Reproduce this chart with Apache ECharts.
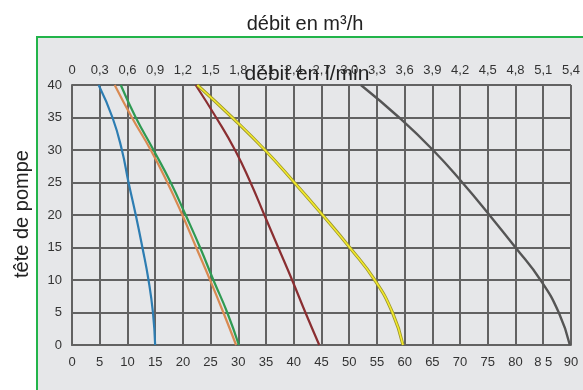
<!DOCTYPE html>
<html>
<head>
<meta charset="utf-8">
<script src="https://cdn.jsdelivr.net/npm/echarts@6/dist/echarts.min.js"></script>
<style>
  html, body { margin: 0; padding: 0; background: #ffffff; }
  #chart { width: 583px; height: 390px; }
</style>
</head>
<body>
<div id="chart"></div>
<script>
// Pump curves: head (m) against flow (l/min), one curve per pump model.
const bottomTicks = ['0','5','10','15','20','25','30','35','40','45','50','55','60','65','70','75','80','8 5','90'];
const topTicks = ['0','0,3','0,6','0,9','1,2','1,5','1,8','2,1','2,4','2,7','3,0','3,3','3,6','3,9','4,2','4,5','4,8','5,1','5,4'];
const headTicks = ['0','5','10','15','20','25','30','35','40'];

// [flow l/min, head m]
const pumpBlue   = [[4.8,40],[7.3,35],[9.0,30],[10.2,25],[11.5,20],[12.7,15],[13.8,10],[14.6,5],[15.0,0]];
const pumpOrange = [[7.7,40],[10.8,35],[14.2,30],[17.2,25],[19.9,20],[22.4,15],[24.9,10],[27.3,5],[29.6,0]];
const pumpGreen  = [[8.8,40],[11.5,35],[14.7,30],[17.8,25],[20.5,20],[23.1,15],[25.5,10],[28.0,5],[30.1,0]];
const pumpBrown  = [[22.3,40],[26.0,35],[29.4,30],[32.2,25],[34.7,20],[37.2,15],[39.7,10],[42.1,5],[44.6,0]];
const pumpYellow = [[22.6,40],[28.9,35],[34.8,30],[40.1,25],[45.2,20],[50.1,15],[54.6,10],[57.8,5],[59.7,0]];
const pumpGray   = [[52.1,40],[59.0,35],[65.1,30],[70.4,25],[75.3,20],[80.0,15],[84.5,10],[87.8,5],[89.8,0]];

const FONT = 'Liberation Sans, Arial, sans-serif';
const GRID_COLOR = '#626262';

function curve(data, color, width, z) {
  return {
    type: 'line', data: data, smooth: 0.5, symbol: 'none', z: z || 3,
    lineStyle: { color: color, width: width }, silent: true, animation: false
  };
}

const chart = echarts.init(document.getElementById('chart'), null, { renderer: 'canvas' });
chart.setOption({
  animation: false,
  backgroundColor: '#ffffff',
  textStyle: { fontFamily: FONT },
  graphic: [
    { type: 'rect', z: -10, shape: { x: 37, y: 37, width: 600, height: 400 },
      style: { fill: '#e6e7e9', stroke: '#22b44a', lineWidth: 2 } },
    { type: 'text', z: 10, x: 22, y: 214, rotation: Math.PI / 2,
      style: { text: 'tête de pompe', fill: '#222', font: '20px ' + FONT, align: 'center', verticalAlign: 'middle' } }
  ],
  title: [
    { text: 'débit en m³/h', left: 300, top: 9, textAlign: 'center',
      textStyle: { fontSize: 20, fontWeight: 'normal', color: '#222', fontFamily: FONT } },
    { text: 'débit en l/min', left: 302, top: 59, textAlign: 'center', z: 20,
      textStyle: { fontSize: 21, fontWeight: 'normal', color: '#222', fontFamily: FONT } }
  ],
  grid: { left: 72, top: 85, width: 500.5, height: 260, containLabel: false },
  xAxis: [
    { type: 'value', position: 'bottom', min: 0, max: 90, interval: 5,
      axisLine: { show: true, lineStyle: { color: GRID_COLOR, width: 2 } },
      axisTick: { show: false },
      splitLine: { show: true, lineStyle: { color: GRID_COLOR, width: 2 } },
      axisLabel: { margin: 11, fontSize: 13, color: '#333',
        formatter: v => bottomTicks[Math.round(v / 5)] } },
    { type: 'value', position: 'top', min: 0, max: 90, interval: 5,
      axisLine: { show: false }, axisTick: { show: false }, splitLine: { show: false },
      axisLabel: { margin: 8, fontSize: 13, color: '#333',
        formatter: v => topTicks[Math.round(v / 5)] } }
  ],
  yAxis: {
    type: 'value', min: 0, max: 40, interval: 5,
    axisLine: { show: true, lineStyle: { color: GRID_COLOR, width: 2 } },
    axisTick: { show: false },
    splitLine: { show: true, lineStyle: { color: GRID_COLOR, width: 2 } },
    axisLabel: { margin: 10, fontSize: 13, color: '#333',
      formatter: v => headTicks[Math.round(v / 5)] }
  },
  series: [
    curve(pumpBlue, '#2d7db2', 2.2),
    curve(pumpOrange, '#d98a52', 2.2),
    curve(pumpGreen, '#2f9a52', 2.2),
    curve(pumpBrown, '#8a2e31', 2.2),
    curve(pumpYellow, '#9c962c', 3.2, 3),
    curve(pumpYellow, '#f3ea2c', 1.6, 4),
    curve(pumpGray, '#555555', 2.4)
  ]
});
</script>
</body>
</html>
